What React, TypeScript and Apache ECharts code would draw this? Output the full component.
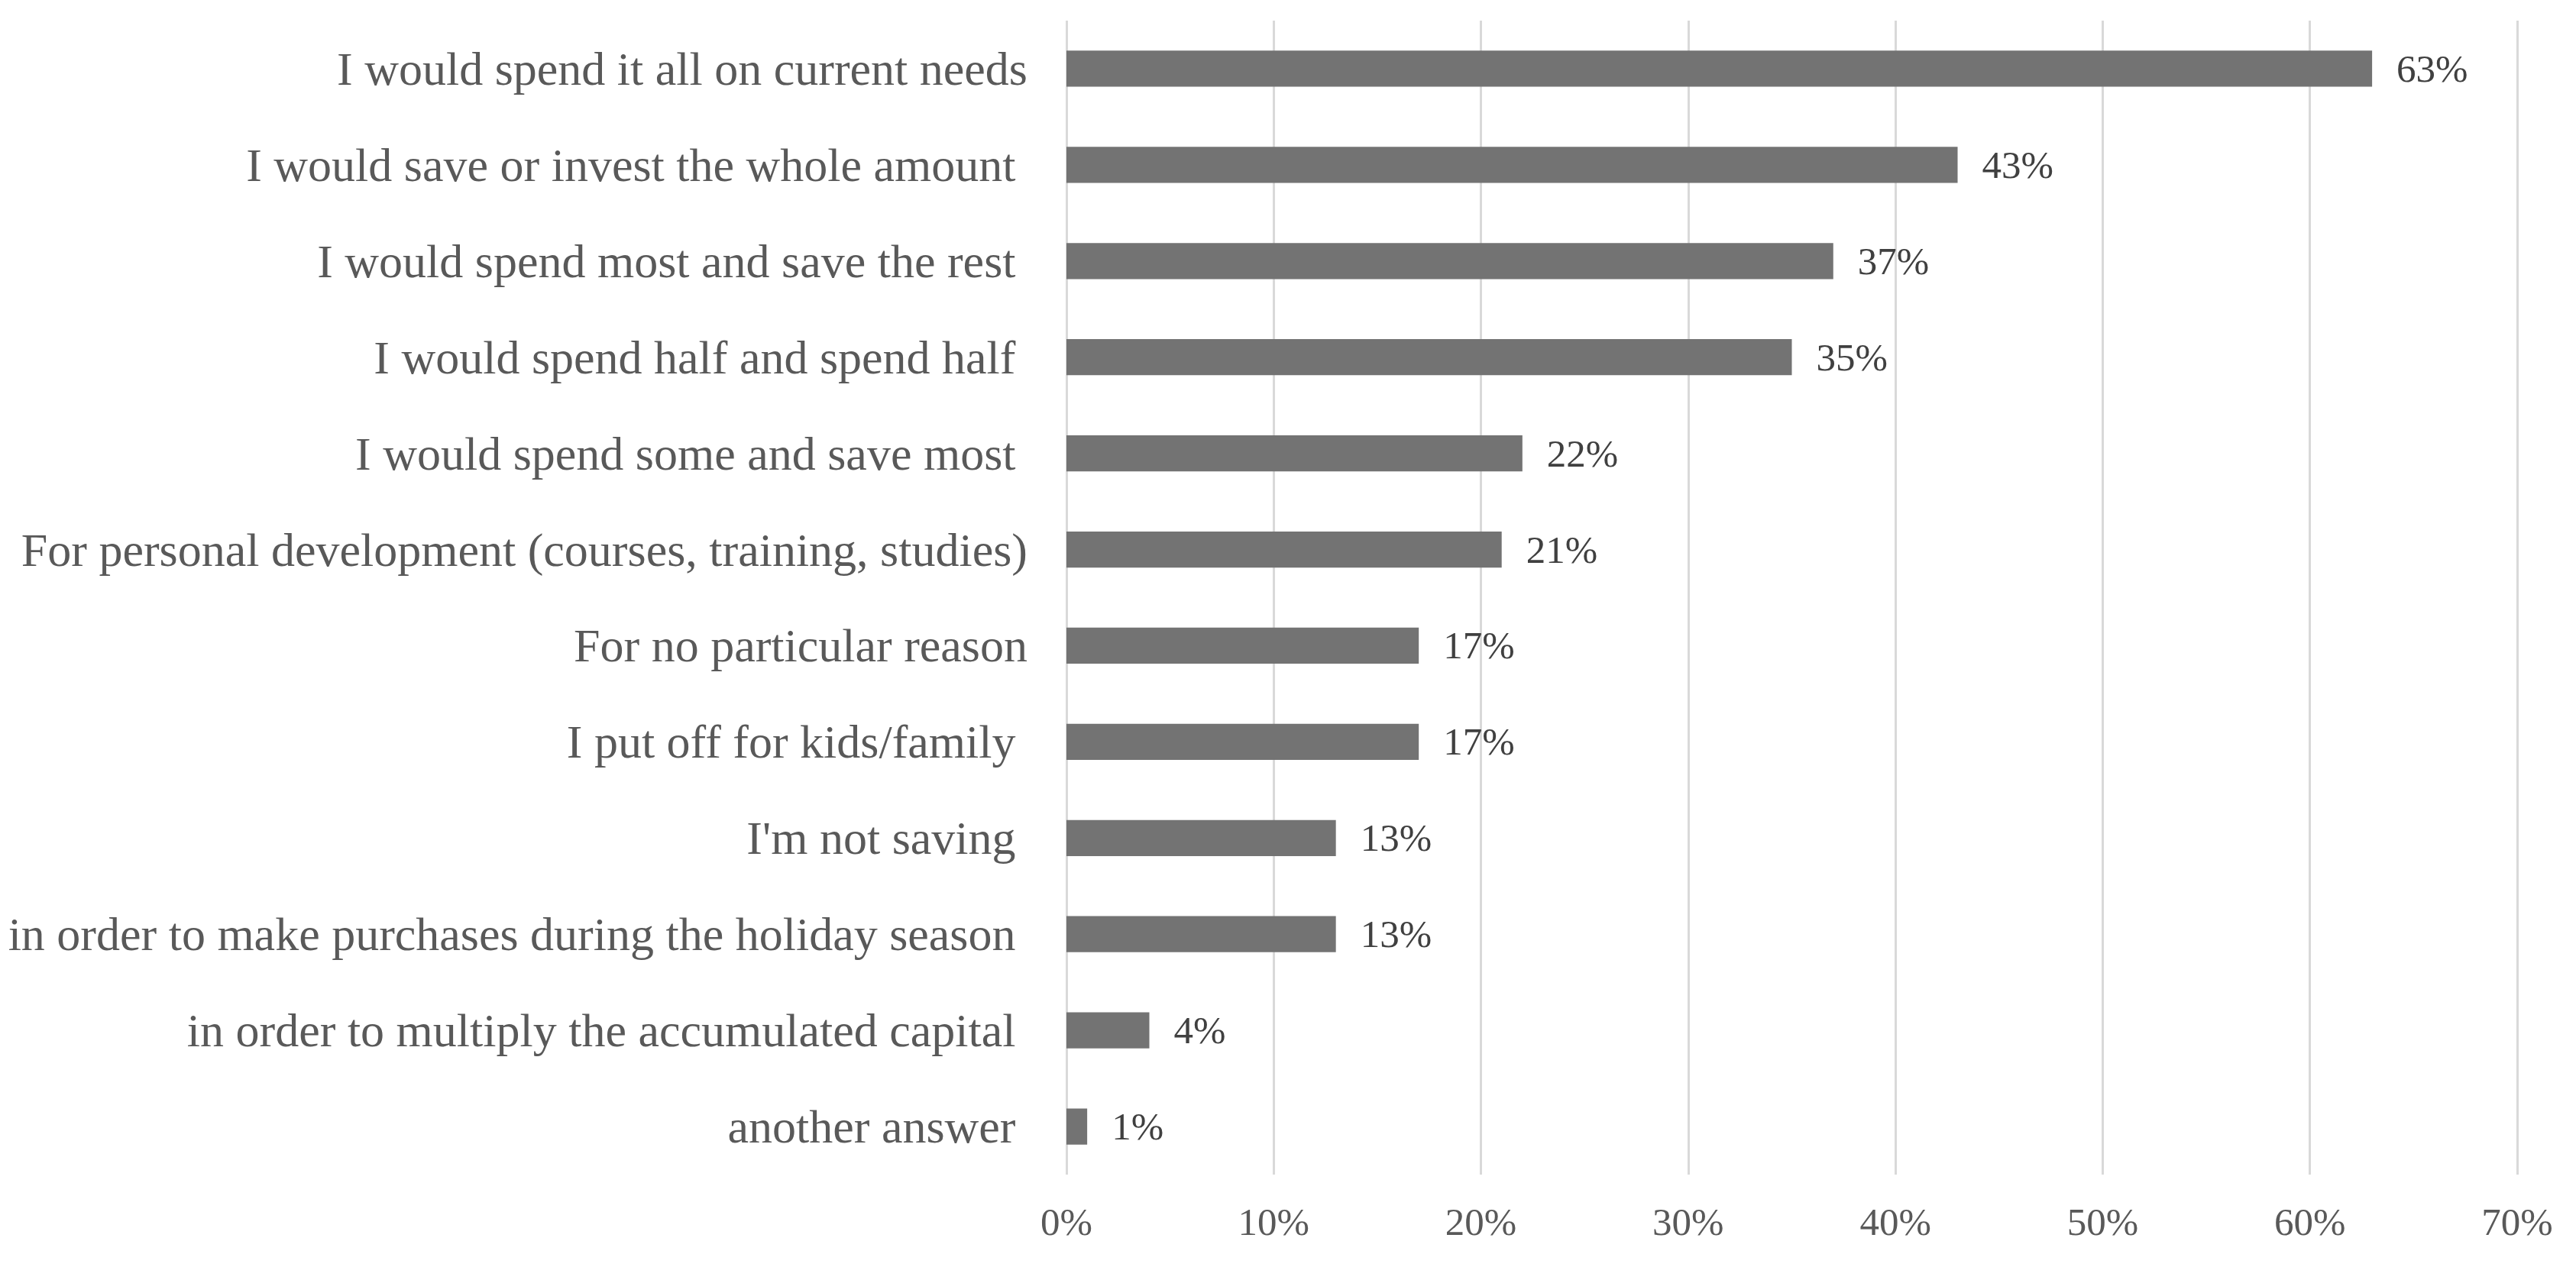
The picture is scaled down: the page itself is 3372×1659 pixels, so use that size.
import React, { useEffect, useRef } from "react";
import * as echarts from "echarts";

const categories: string[] = [
  "I would spend it all on current needs",
  "I would save or invest the whole amount ",
  "I would spend most and save the rest ",
  "I would spend half and spend half ",
  "I would spend some and save most ",
  "For personal development (courses, training, studies)",
  "For no particular reason",
  "I put off for kids/family ",
  "I'm not saving ",
  "in order to make purchases during the holiday season ",
  "in order to multiply the accumulated capital ",
  "another answer ",
];

const values: number[] = [63, 43, 37, 35, 22, 21, 17, 17, 13, 13, 4, 1];

const xTicks: number[] = [0, 10, 20, 30, 40, 50, 60, 70];

const FONT = "'Liberation Serif', 'Times New Roman', serif";

export default function App() {
  const ref = useRef<HTMLDivElement>(null);

  useEffect(() => {
    document.body.style.margin = "0";
    if (!ref.current) return;
    const chart = echarts.init(ref.current, null, { renderer: "svg" });
    chart.setOption({
      animation: false,
      backgroundColor: "#ffffff",
      grid: { left: 1396, right: 77, top: 27, bottom: 121, containLabel: false },
      xAxis: {
        type: "value",
        min: xTicks[0],
        max: xTicks[xTicks.length - 1],
        interval: 10,
        axisLine: { show: false },
        axisTick: { show: false },
        splitLine: { show: true, lineStyle: { color: "#d9d9d9", width: 3 } },
        axisLabel: {
          formatter: (v: number) => `${v}%`,
          fontFamily: FONT,
          fontSize: 51,
          color: "#595959",
          margin: 36,
        },
      },
      yAxis: {
        type: "category",
        data: categories,
        inverse: true,
        axisLine: { show: false },
        axisTick: { show: false },
        splitLine: { show: false },
        axisLabel: {
          formatter: (v: string) => v.replace(/ $/, "\u00a0"),
          fontFamily: FONT,
          fontSize: 62,
          color: "#595959",
          margin: 51,
        },
      },
      series: [
        {
          type: "bar",
          data: values,
          barCategoryGap: "62.5%",
          itemStyle: { color: "#737373" },
          label: {
            show: true,
            position: "right",
            distance: 32,
            formatter: (p: any) => `${p.value}%`,
            fontFamily: FONT,
            fontSize: 51,
            color: "#404040",
          },
        },
      ],
    });
    return () => chart.dispose();
  }, []);

  return (
    <div
      ref={ref}
      style={{ position: "fixed", left: 0, top: 0, width: "3372px", height: "1659px" }}
    />
  );
}
